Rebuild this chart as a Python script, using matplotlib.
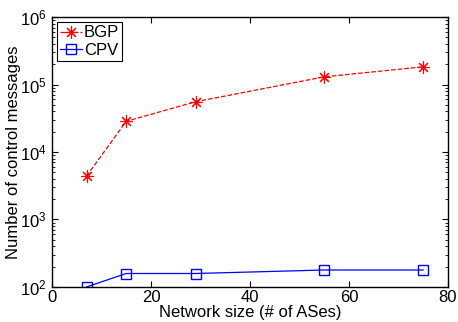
import matplotlib
matplotlib.use("Agg")
import matplotlib.pyplot as plt

# Data
sizes = [7, 15, 29, 55, 75]
bgp = [4400, 28500, 55500, 130000, 183000]
cpv = [100, 158, 158, 178, 178]

plt.rcParams['font.family'] = ['Liberation Sans', 'DejaVu Sans']
plt.rcParams['mathtext.fontset'] = 'custom'
plt.rcParams['mathtext.rm'] = 'Liberation Sans'

fig = plt.figure(figsize=(4.58, 3.22), dpi=100)
ax = fig.add_axes([0.1135, 0.109, 0.8645, 0.838])

ax.plot(sizes, bgp, color="red", linestyle="--", linewidth=0.9, marker=(8, 2, 0),
        markersize=9, markeredgewidth=0.8, label="BGP")
ax.plot(sizes, cpv, color="blue", linestyle="-", linewidth=0.9, marker="s",
        markersize=7, markerfacecolor="none", markeredgewidth=1.0, label="CPV")

ax.set_yscale("log")
ax.set_xlim(0, 80)
ax.set_ylim(1e2, 1e6)
ax.set_xticks([0, 20, 40, 60, 80])
ax.tick_params(which="both", direction="in", top=True, right=True, labelsize=12)
ax.tick_params(which="major", length=4)
ax.tick_params(which="minor", length=2)
ax.tick_params(axis="x", pad=2)
ax.tick_params(axis="y", pad=4)
for s in ax.spines.values():
    s.set_linewidth(1.0)

ax.set_xlabel("Network size (# of ASes)", fontsize=12, labelpad=0)
ax.set_ylabel("Number of control messages", fontsize=12, labelpad=-1)

leg = ax.legend(loc="upper left", fontsize=12, fancybox=False, framealpha=1,
                edgecolor="black", handlelength=1.3, borderpad=0.2,
                labelspacing=0.15, handletextpad=0.1, borderaxespad=0.3)
leg.get_frame().set_linewidth(0.8)

fig.savefig("out.png", dpi=100)
